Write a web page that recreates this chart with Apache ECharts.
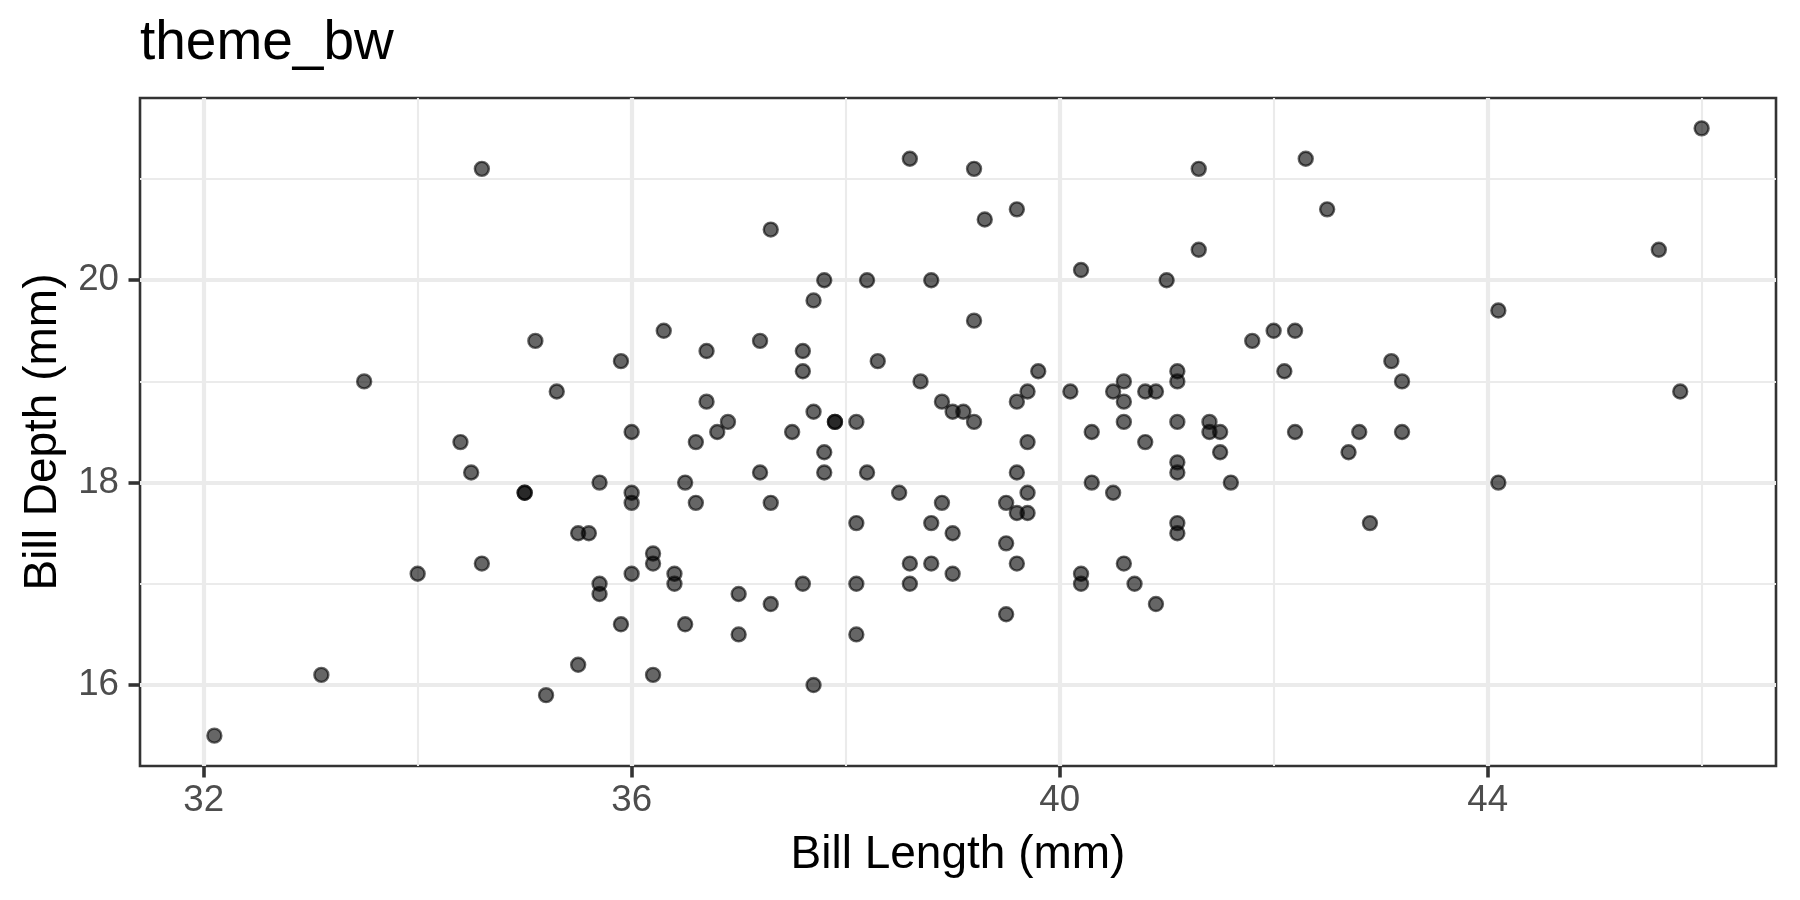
<!DOCTYPE html>
<html>
<head>
<meta charset="utf-8">
<script src="https://cdn.jsdelivr.net/npm/echarts@6/dist/echarts.min.js"></script>
<style>
html,body{margin:0;padding:0;background:#fff;}
#chart{width:1800px;height:900px;}
</style>
</head>
<body>
<div id="chart"></div>
<script>
// ---- data ----
const billLength = [
  34.6, 35.1, 33.5, 35.3, 34.4, 38.6, 39.2, 39.3, 37.3, 37.8,
  38.2, 38.8, 37.7, 39.2, 36.3, 37.2, 36.7, 37.6, 37.6, 35.9,
  38.3, 38.7, 36.7, 38.9, 39.0, 39.1, 39.2, 37.7, 37.9, 37.9,
  38.1, 36.9, 36.0, 36.8, 37.5, 36.6, 37.8, 37.8, 37.2, 38.2,
  35.7, 36.5, 36.0, 36.0, 36.6, 37.3, 38.5, 38.9, 38.1, 38.8,
  39.0, 35.5, 35.6, 36.2, 36.2, 36.0, 36.4, 36.4, 35.7, 35.7,
  38.6, 38.8, 38.6, 39.0, 37.6, 38.1, 37.0, 37.3, 35.9, 36.5,
  37.0, 38.1, 35.5, 36.2, 37.7, 35.2, 34.5, 35.0, 35.0, 34.6,
  34.0, 33.1, 32.1, 39.6, 41.3, 42.3, 42.5, 41.3, 40.2, 41.0,
  41.8, 42.0, 42.2, 43.1, 43.2, 39.8, 42.1, 39.7, 39.6, 39.7,
  40.1, 40.5, 40.6, 40.6, 40.8, 40.9, 41.1, 41.1, 40.3, 40.6,
  40.8, 41.1, 41.4, 41.4, 41.5, 42.2, 42.8, 43.2, 41.5, 42.7,
  39.6, 41.1, 41.1, 40.3, 41.6, 39.7, 40.5, 39.5, 39.6, 39.7,
  41.1, 41.1, 42.9, 39.5, 39.6, 40.2, 40.2, 40.6, 40.7, 40.9,
  39.5, 46.0, 45.6, 44.1, 45.8, 44.1
];
const billDepth = [
  21.1, 19.4, 19.0, 18.9, 18.4, 21.2, 21.1, 20.6, 20.5, 20.0,
  20.0, 20.0, 19.8, 19.6, 19.5, 19.4, 19.3, 19.3, 19.1, 19.2,
  19.2, 19.0, 18.8, 18.8, 18.7, 18.7, 18.6, 18.7, 18.6, 18.6,
  18.6, 18.6, 18.5, 18.5, 18.5, 18.4, 18.3, 18.1, 18.1, 18.1,
  18.0, 18.0, 17.9, 17.8, 17.8, 17.8, 17.9, 17.8, 17.6, 17.6,
  17.5, 17.5, 17.5, 17.3, 17.2, 17.1, 17.1, 17.0, 17.0, 16.9,
  17.2, 17.2, 17.0, 17.1, 17.0, 17.0, 16.9, 16.8, 16.6, 16.6,
  16.5, 16.5, 16.2, 16.1, 16.0, 15.9, 18.1, 17.9, 17.9, 17.2,
  17.1, 16.1, 15.5, 20.7, 21.1, 21.2, 20.7, 20.3, 20.1, 20.0,
  19.4, 19.5, 19.5, 19.2, 19.0, 19.1, 19.1, 18.9, 18.8, 18.4,
  18.9, 18.9, 19.0, 18.8, 18.9, 18.9, 19.1, 19.0, 18.5, 18.6,
  18.4, 18.6, 18.6, 18.5, 18.5, 18.5, 18.5, 18.5, 18.3, 18.3,
  18.1, 18.2, 18.1, 18.0, 18.0, 17.9, 17.9, 17.8, 17.7, 17.7,
  17.6, 17.5, 17.6, 17.4, 17.2, 17.1, 17.0, 17.2, 17.0, 16.8,
  16.7, 21.5, 20.3, 19.7, 18.9, 18.0
];
const xMajorTicks = [32, 36, 40, 44];
const xMinorTicks = [34, 38, 42, 46];
const yMajorTicks = [16, 18, 20];
const yMinorTicks = [17, 19, 21];
const titleText = 'theme_bw';
const xTitle = 'Bill Length (mm)';
const yTitle = 'Bill Depth (mm)';

// ---- build ----
function expandRange(arr) {
  const lo = Math.min.apply(null, arr), hi = Math.max.apply(null, arr);
  const pad = (hi - lo) * 0.05;
  return [lo - pad, hi + pad];
}
const xr = expandRange(billLength);
const yr = expandRange(billDepth);
const points = billLength.map((v, i) => [v, billDepth[i]]);

const FONT = 'Liberation Sans, Arial, Helvetica, sans-serif';
const GRID_COLOR = '#EBEBEB';
const MAJOR_W = 4.2, MINOR_W = 2.1;

const gridLines = []
  .concat(xMajorTicks.map(v => ({ xAxis: v, lineStyle: { width: MAJOR_W, color: GRID_COLOR, type: 'solid' } })))
  .concat(xMinorTicks.map(v => ({ xAxis: v, lineStyle: { width: MINOR_W, color: GRID_COLOR, type: 'solid' } })))
  .concat(yMajorTicks.map(v => ({ yAxis: v, lineStyle: { width: MAJOR_W, color: GRID_COLOR, type: 'solid' } })))
  .concat(yMinorTicks.map(v => ({ yAxis: v, lineStyle: { width: MINOR_W, color: GRID_COLOR, type: 'solid' } })));

const chart = echarts.init(document.getElementById('chart'), null, { renderer: 'canvas' });
chart.setOption({
  animation: false,
  backgroundColor: '#ffffff',
  textStyle: { fontFamily: FONT },
  title: [{
    text: titleText,
    left: 140, top: 16, padding: 0,
    textStyle: { fontSize: 55, fontWeight: 'normal', color: '#000000', fontFamily: FONT }
  }],
  grid: {
    left: 140, right: 24, top: 98, bottom: 134,
    show: true, backgroundColor: '#ffffff',
    borderColor: '#333333', borderWidth: 2.6,
    containLabel: false
  },
  xAxis: {
    type: 'value',
    min: xr[0], max: xr[1],
    name: xTitle, nameLocation: 'middle', nameGap: 66,
    nameTextStyle: { fontSize: 46, color: '#000000', fontFamily: FONT },
    axisLine: { show: false },
    axisTick: { show: true, customValues: xMajorTicks, length: 11.5, inside: false,
                lineStyle: { color: '#333333', width: 3.6 } },
    axisLabel: { show: true, customValues: xMajorTicks, margin: 16, fontSize: 36.7,
                 color: '#4D4D4D', fontFamily: FONT },
    splitLine: { show: false },
    minorSplitLine: { show: false }
  },
  yAxis: {
    type: 'value',
    min: yr[0], max: yr[1],
    name: yTitle, nameLocation: 'middle', nameGap: 74, nameRotate: 90,
    nameTextStyle: { fontSize: 46, color: '#000000', fontFamily: FONT },
    axisLine: { show: false },
    axisTick: { show: true, customValues: yMajorTicks, length: 11.5, inside: false,
                lineStyle: { color: '#333333', width: 3.6 } },
    axisLabel: { show: true, customValues: yMajorTicks, margin: 21, fontSize: 36.7,
                 color: '#4D4D4D', fontFamily: FONT },
    splitLine: { show: false },
    minorSplitLine: { show: false }
  },
  series: [{
    type: 'scatter',
    z: 3,
    data: points,
    symbol: 'circle',
    symbolSize: 14,
    itemStyle: {
      color: 'rgba(0,0,0,0.6)',
      borderColor: 'rgba(0,0,0,0.6)',
      borderWidth: 2.4,
      opacity: 1
    },
    emphasis: { disabled: true },
    silent: true,
    markLine: {
      z: 1,
      silent: true,
      symbol: ['none', 'none'],
      label: { show: false },
      emphasis: { disabled: true },
      animation: false,
      data: gridLines
    }
  }]
});
</script>
</body>
</html>
